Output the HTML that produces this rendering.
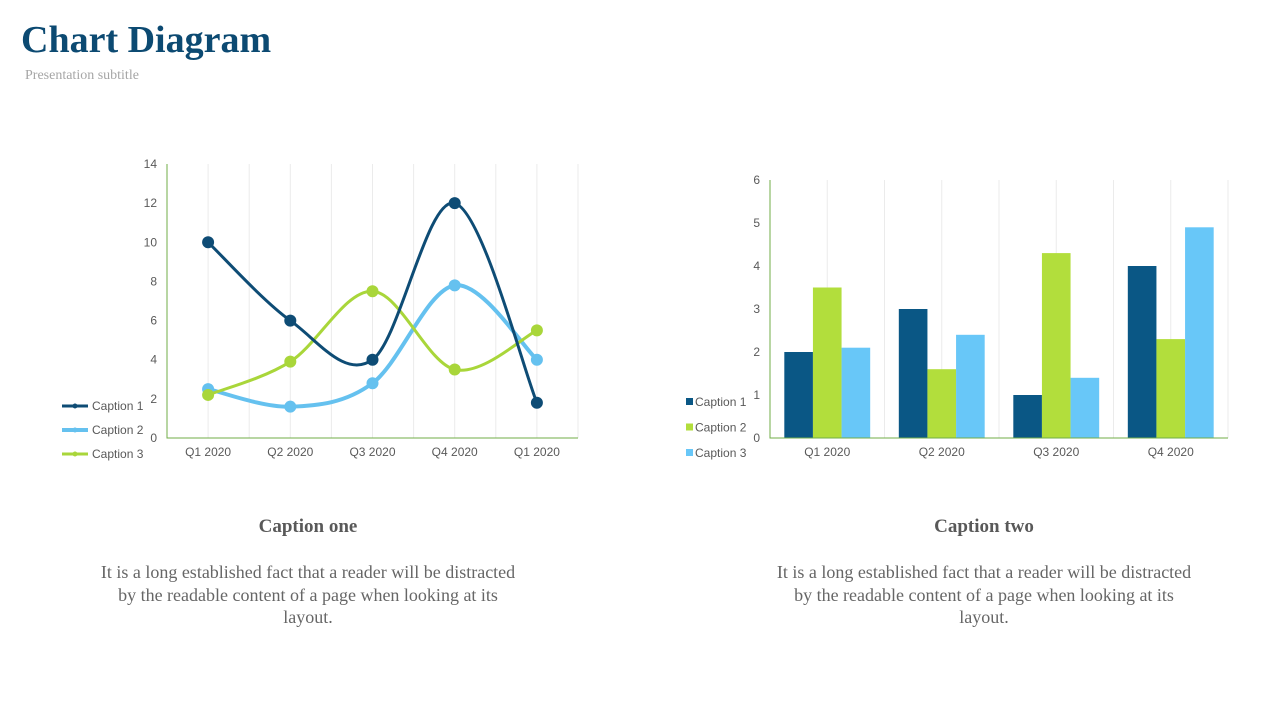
<!DOCTYPE html>
<html><head><meta charset="utf-8"><style>
body{margin:0;width:1280px;height:720px;background:#fff;overflow:hidden;position:relative;font-family:"Liberation Serif",serif}
.t{position:absolute;white-space:nowrap}
svg text{font-family:"Liberation Sans",sans-serif;font-size:12px;fill:#595959}
</style></head><body>
<div class="t" style="left:21px;top:18px;font-size:38px;font-weight:bold;color:#0c4a72">Chart Diagram</div>
<div class="t" style="left:25px;top:68px;font-size:14px;color:#a6a6a6">Presentation subtitle</div>
<svg id="c1" width="640" height="480" style="position:absolute;left:0;top:0"></svg>
<svg id="c2" width="640" height="480" style="position:absolute;left:640px;top:0"></svg>
<div class="t" style="left:108px;width:400px;text-align:center;top:516px;font-size:19px;font-weight:bold;color:#595959">Caption one</div>
<div style="position:absolute;left:98px;width:420px;text-align:center;top:561px;font-size:18px;line-height:22.5px;color:#666">It is a long established fact that a reader will be distracted by the readable content of a page when looking at its layout.</div>
<div class="t" style="left:784px;width:400px;text-align:center;top:516px;font-size:19px;font-weight:bold;color:#595959">Caption two</div>
<div style="position:absolute;left:774px;width:420px;text-align:center;top:561px;font-size:18px;line-height:22.5px;color:#666">It is a long established fact that a reader will be distracted by the readable content of a page when looking at its layout.</div>
<script>
const NS='http://www.w3.org/2000/svg';
function mk(p,t,a){const e=document.createElementNS(NS,t);for(const k in a)e.setAttribute(k,a[k]);p.appendChild(e);return e;}
// line chart data
const lineCats=['Q1 2020','Q2 2020','Q3 2020','Q4 2020','Q1 2020'];
const lineS1=[10,6,4,12,1.8];
const lineS2=[2.5,1.6,2.8,7.8,4];
const lineS3=[2.2,3.9,7.5,3.5,5.5];
const lineNames=['Caption 1','Caption 2','Caption 3'];
const lineTicks=[0,2,4,6,8,10,12,14];
// bar chart data
const barCats=['Q1 2020','Q2 2020','Q3 2020','Q4 2020'];
const barS1=[2,3,1,4];
const barS2=[3.5,1.6,4.3,2.3];
const barS3=[2.1,2.4,1.4,4.9];
const barNames=['Caption 1','Caption 2','Caption 3'];
const barTicks=[0,1,2,3,4,5,6];

(function(){
const s=document.getElementById('c1');
const L=167,R=578,B=438,T=164,max=14,n=lineCats.length,bw=(R-L)/n;
const x=i=>L+bw*(i+0.5), y=v=>B-(v/max)*(B-T);
for(let i=0;i<=2*n;i++){const gx=L+bw*i/2;if(i>0){const g=mk(s,'line',{x1:gx,x2:gx,y1:T,y2:B,stroke:'#ebebeb'});}}
lineTicks.forEach(v=>{const t=mk(s,'text',{x:157,y:y(v)+4,'text-anchor':'end'});t.textContent=v;});
lineCats.forEach((c,i)=>{const t=mk(s,'text',{x:x(i),y:456,'text-anchor':'middle'});t.textContent=c;});
const ax=mk(s,'path',{d:`M${L} ${T}V${B}H${R}`,fill:'none',stroke:'#70ad47','stroke-width':1});

const series=[[lineS2,'#65c1ef',4,'Caption 2'],[lineS3,'#a9d63a',3,'Caption 3'],[lineS1,'#0e4c75',3,'Caption 1']];
function path(d){const p=d.map((v,i)=>[x(i),y(v)]);let s=`M${p[0][0]} ${p[0][1]}`;for(let i=0;i<p.length-1;i++){const p0=p[i-1]||p[i],p1=p[i],p2=p[i+1],p3=p[i+2]||p2;const c1=[p1[0]+(p2[0]-p0[0])/6,p1[1]+(p2[1]-p0[1])/6],c2=[p2[0]-(p3[0]-p1[0])/6,p2[1]-(p3[1]-p1[1])/6];s+=`C${c1[0]} ${c1[1]} ${c2[0]} ${c2[1]} ${p2[0]} ${p2[1]}`;}return s;}
series.forEach(([d,c,w,nm])=>{const p=mk(s,'path',{d:path(d),fill:'none',stroke:c,'stroke-width':w});
d.forEach((v,i)=>{const m=mk(s,'circle',{cx:x(i),cy:y(v),r:6,fill:c});});});
const lc=['#0e4c75','#65c1ef','#a9d63a'],lw=[3,4,3];
lineNames.forEach((nm,i)=>{const ly=406+i*24;const l=mk(s,'line',{x1:62,x2:88,y1:ly,y2:ly,stroke:lc[i],'stroke-width':lw[i]});
mk(s,'circle',{cx:75,cy:ly,r:2.5,fill:lc[i]});
const t=mk(s,'text',{x:92,y:ly+4});t.textContent=nm;});
})();

(function(){
const s=document.getElementById('c2');const o=640;
const L=770-o,R=1228-o,B=438,T=180,max=6,n=barCats.length,bw=(R-L)/n;
const y=v=>B-(v/max)*(B-T);
for(let i=1;i<=2*n;i++){const gx=L+bw*i/2;const g=mk(s,'line',{x1:gx,x2:gx,y1:T,y2:B,stroke:'#ebebeb'});}
barTicks.forEach(v=>{const t=mk(s,'text',{x:120,y:y(v)+4,'text-anchor':'end'});t.textContent=v;});
barCats.forEach((c,i)=>{const t=mk(s,'text',{x:L+bw*(i+0.5),y:456,'text-anchor':'middle'});t.textContent=c;});
const cols=['#0a5785','#b2de3c','#68c7f8'];const data=[barS1,barS2,barS3];const w=bw/4;
data.forEach((d,k)=>d.forEach((v,i)=>{const r=mk(s,'rect',{x:L+bw*i+w/2+k*w,y:y(v),width:w,height:B-y(v),fill:cols[k]});}));
const ax=mk(s,'path',{d:`M${L} ${T}V${B}H${R}`,fill:'none',stroke:'#70ad47','stroke-width':1});
barNames.forEach((nm,i)=>{const ly=402+i*25.5;const r=mk(s,'rect',{x:46,y:ly-4,width:7,height:7,fill:cols[i]});
const t=mk(s,'text',{x:55,y:ly+4});t.textContent=nm;});
})();
</script>
</body></html>
